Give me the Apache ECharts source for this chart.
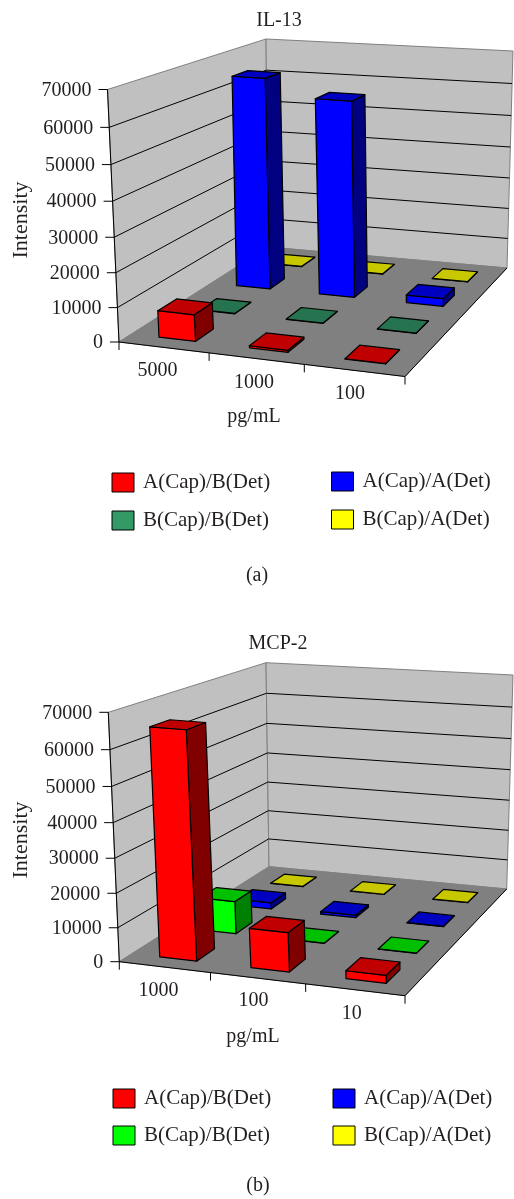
<!DOCTYPE html>
<html>
<head>
<meta charset="utf-8">
<style>html,body{margin:0;padding:0;background:#fff}#c{width:514px;height:1199px}</style>
<script src="https://cdn.jsdelivr.net/npm/echarts@6/dist/echarts.min.js"></script>
</head>
<body>
<div id="c"></div>
<script>
// ---- data ----
var seriesNames = ['A(Cap)/B(Det)', 'B(Cap)/B(Det)', 'A(Cap)/A(Det)', 'B(Cap)/A(Det)'];
var yTicks = [0, 10000, 20000, 30000, 40000, 50000, 60000, 70000];

var categoriesIL13 = ['5000', '1000', '100'];
var il13AB = [7800, 600, 100];
var il13BB = [100, 100, 100];
var il13AA = [65000, 60000, 2400];
var il13BA = [100, 100, 100];

var categoriesMCP2 = ['1000', '100', '10'];
var mcp2AB = [65500, 11500, 2300];
var mcp2BB = [10000, 100, 100];
var mcp2AA = [2000, 800, 100];
var mcp2BA = [100, 100, 100];

// ---- styles (front, top, side) ----
var RED = ['#ff0000', '#c00000', '#800000'];
var SEA = ['#339966', '#267350', '#1a4d33'];
var LIME = ['#00ff00', '#00c000', '#008000'];
var BLUE = ['#0000ff', '#0000c0', '#000080'];
var YEL = ['#ffff00', '#c8c800', '#808000'];

var FONT = '"Liberation Serif", serif';
var TEXT = '#231f20';
var FS = 20;
var BAR_U = 0.41, BAR_V = 0.44, BAR_SHIFT = 0.006, PERSP = 1.058;

function homography(p0, p1, p2, p3) {
  var dx1 = p1[0] - p2[0], dx2 = p3[0] - p2[0], sx = p0[0] - p1[0] + p2[0] - p3[0];
  var dy1 = p1[1] - p2[1], dy2 = p3[1] - p2[1], sy = p0[1] - p1[1] + p2[1] - p3[1];
  var den = dx1 * dy2 - dx2 * dy1;
  var g = (sx * dy2 - dx2 * sy) / den, h = (dx1 * sy - sx * dy1) / den;
  var a = p1[0] - p0[0] + g * p1[0], b = p3[0] - p0[0] + h * p3[0];
  var d = p1[1] - p0[1] + g * p1[1], e = p3[1] - p0[1] + h * p3[1];
  return function (u, v) {
    var w = g * u + h * v + 1;
    return [(a * u + b * v + p0[0]) / w, (d * u + e * v + p0[1]) / w];
  };
}
function makeProjection(floor, top) {
  var hf = homography.apply(null, floor), ht = homography.apply(null, top);
  return function (u, v, f) {
    var b = hf(u, v), t = ht(u, v);
    var q = f <= 0 ? 0 : f / (f + (1 - f) * PERSP);
    return [b[0] + (t[0] - b[0]) * q, b[1] + (t[1] - b[1]) * q];
  };
}
function poly(pts, fill, stroke, lw) {
  return { type: 'polygon', shape: { points: pts }, style: { fill: fill, stroke: stroke || '#000', lineWidth: lw === undefined ? 1.2 : lw, lineJoin: 'round' } };
}
function line(a, b, color, lw) {
  return { type: 'line', shape: { x1: a[0], y1: a[1], x2: b[0], y2: b[1] }, style: { stroke: color || '#000', lineWidth: lw || 1 } };
}
function label(x, y, s, align) {
  return { type: 'text', style: { x: x, y: y, text: s, fill: TEXT, font: FS + 'px ' + FONT, align: align || 'center', verticalAlign: 'middle' } };
}

function backdropSeries(idx, P, cats, catOff) {
  return {
    type: 'custom', name: 'frame', coordinateSystem: 'cartesian2d', xAxisIndex: idx, yAxisIndex: idx,
    z: 1, silent: true, data: [[0, 0]],
    renderItem: function (params, api) {
      var cs = params.coordSys, ch = [];
      var fr = function (val) { return (api.coord([0, 0])[1] - api.coord([0, val])[1]) / cs.height; };
      ch.push(poly([P(0, 0, 0), P(0, 1, 0), P(0, 1, 1), P(0, 0, 1)], '#c0c0c0', '#808080', 1));
      ch.push(poly([P(0, 1, 0), P(1, 1, 0), P(1, 1, 1), P(0, 1, 1)], '#c0c0c0', '#808080', 1));
      ch.push(poly([P(0, 0, 0), P(1, 0, 0), P(1, 1, 0), P(0, 1, 0)], '#808080', '#808080', 1));
      yTicks.forEach(function (t) {
        var f = fr(t), a = P(0, 0, f), b = P(0, 1, f), c = P(1, 1, f);
        if (t > 0 && t < 70000) {
          ch.push(line(a, b)); ch.push(line(b, c));
        }
        ch.push(line([a[0] - 9, a[1]], a));
        ch.push(label(a[0] - 16, a[1] + 1, String(t), 'right'));
      });
      ch.push(line(P(0, 0, 0), P(0, 0, 1)));
      ch.push(line(P(0, 0, 0), P(1, 0, 0)));
      ch.push(line(P(1, 0, 0), P(1, 1, 0)));
      for (var i = 0; i <= cats.length; i++) {
        var p = P(i / cats.length, 0, 0);
        ch.push(line(p, [p[0], p[1] + 8]));
      }
      cats.forEach(function (c, i) {
        var m = P((api.coord([i, 0])[0] - cs.x) / cs.width, 0, 0);
        ch.push(label(m[0] + catOff[i][0], m[1] + catOff[i][1], c));
      });
      return { type: 'group', children: ch };
    }
  };
}

function barSeries(idx, P, name, values, depth, colors) {
  return {
    type: 'custom', name: name, coordinateSystem: 'cartesian2d', xAxisIndex: idx, yAxisIndex: idx,
    z: 2 + (3 - depth), silent: true, itemStyle: { color: colors[0] },
    encode: { x: 0, y: 1 },
    data: values.map(function (v, i) { return [i, v]; }),
    renderItem: function (params, api) {
      var cs = params.coordSys;
      var cat = api.value(0), val = api.value(1);
      var c0 = api.coord([cat, 0]), c1 = api.coord([cat, val]);
      var u = (c0[0] - cs.x) / cs.width + BAR_SHIFT, f = (c0[1] - c1[1]) / cs.height;
      var hu = api.size([1, 0])[0] / cs.width * BAR_U / 2;
      var v = (depth + 0.5) / 4, hv = BAR_V / 8;
      var A = function (a, b, h) { return P(u + a * hu, v + b * hv, h); };
      return {
        type: 'group', children: [
          poly([A(1, -1, 0), A(1, 1, 0), A(1, 1, f), A(1, -1, f)], colors[2]),
          poly([A(-1, -1, 0), A(1, -1, 0), A(1, -1, f), A(-1, -1, f)], colors[0]),
          poly([A(-1, -1, f), A(1, -1, f), A(1, 1, f), A(-1, 1, f)], colors[1])
        ]
      };
    }
  };
}

// ---- camera frames ----
var P1 = makeProjection(
  [[119, 342], [405, 376.5], [507, 268], [268, 247]],
  [[107.5, 89.5], [407.5, 115.5], [513, 51], [266, 39]]);
var P2 = makeProjection(
  [[119.3, 961.7], [405, 995.7], [506.7, 889], [269, 866.7]],
  [[108.3, 712.3], [407.5, 736.5], [513, 675], [266, 662.7]]);

function axisPair(i, cats, top, h) {
  return {
    grid: { left: 119, width: 286, top: top, height: h },
    xAxis: { type: 'category', gridIndex: i, data: cats, show: false },
    yAxis: { type: 'value', gridIndex: i, min: 0, max: 70000, interval: 10000, show: false }
  };
}
var a0 = axisPair(0, categoriesIL13, 90, 252);
var a1 = axisPair(1, categoriesMCP2, 712, 250);

function legendItem(left, top, gap, names, colors) {
  return {
    left: left, top: top, padding: 0, orient: 'vertical', itemWidth: 22, itemHeight: 19, itemGap: gap, selectedMode: false,
    icon: 'rect',
    textStyle: { fontFamily: FONT, fontSize: 21, color: TEXT, padding: [0, 0, 0, 4] },
    data: names.map(function (n, i) {
      return { name: n, itemStyle: { color: colors[i], borderColor: '#000', borderWidth: 1 } };
    })
  };
}
function txt(x, y, s, rot, size) {
  return {
    type: 'text', x: x, y: y, rotation: rot || 0,
    style: { text: s, fill: TEXT, font: (size || FS) + 'px ' + FONT, align: 'center', verticalAlign: 'middle' }
  };
}

var chart = echarts.init(document.getElementById('c'), null, { renderer: 'canvas' });
chart.setOption({
  animation: false,
  backgroundColor: '#fff',
  grid: [a0.grid, a1.grid],
  xAxis: [a0.xAxis, a1.xAxis],
  yAxis: [a0.yAxis, a1.yAxis],
  legend: [
    legendItem(111.5, 472, 17, [seriesNames[0], seriesNames[1]], [RED[0], SEA[0]]),
    legendItem(331, 471, 17, [seriesNames[2], seriesNames[3]], [BLUE[0], YEL[0]]),
    legendItem(112.5, 1088, 16, [seriesNames[0], seriesNames[1]], [RED[0], LIME[0]]),
    legendItem(332.5, 1088, 16, [seriesNames[2], seriesNames[3]], [BLUE[0], YEL[0]])
  ],
  graphic: [
    txt(279, 21, 'IL-13'),
    txt(21, 220, 'Intensity', Math.PI / 2, 22),
    txt(254, 417, 'pg/mL'),
    txt(257, 576, '(a)'),
    txt(278, 644, 'MCP-2'),
    txt(21, 840, 'Intensity', Math.PI / 2, 22),
    txt(253, 1037, 'pg/mL'),
    txt(258, 1186, '(b)')
  ],
  series: [
    backdropSeries(0, P1, categoriesIL13, [[-6, 23], [-2, 24], [-4, 23]]),
    barSeries(0, P1, seriesNames[3], il13BA, 3, YEL),
    barSeries(0, P1, seriesNames[2], il13AA, 2, BLUE),
    barSeries(0, P1, seriesNames[1], il13BB, 1, SEA),
    barSeries(0, P1, seriesNames[0], il13AB, 0, RED),
    backdropSeries(1, P2, categoriesMCP2, [[-6, 24], [-4, 23], [-3, 24]]),
    barSeries(1, P2, seriesNames[3], mcp2BA, 3, YEL),
    barSeries(1, P2, seriesNames[2], mcp2AA, 2, BLUE),
    barSeries(1, P2, seriesNames[1], mcp2BB, 1, LIME),
    barSeries(1, P2, seriesNames[0], mcp2AB, 0, RED)
  ]
});
</script>
</body>
</html>
